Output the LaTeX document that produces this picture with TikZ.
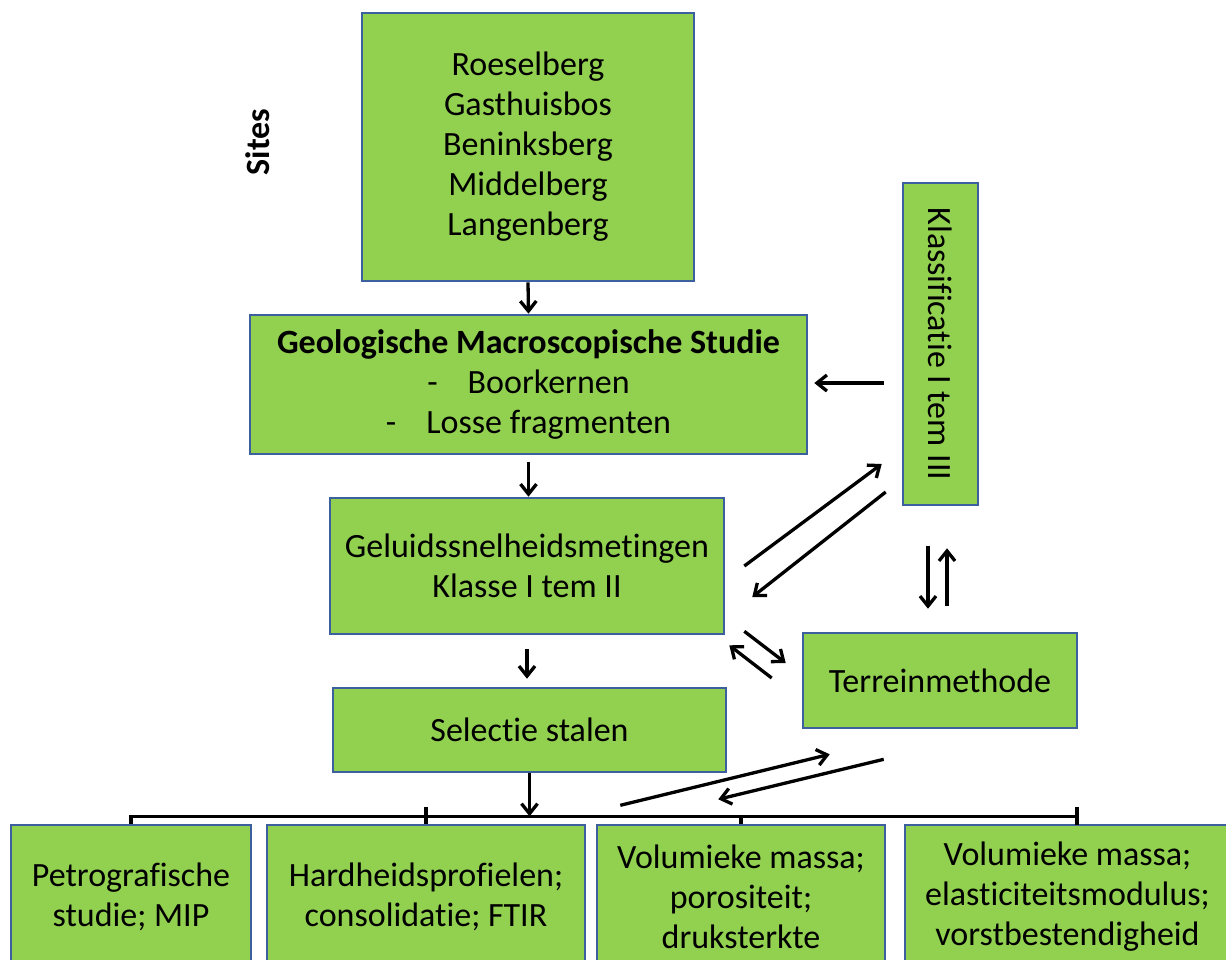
\documentclass[tikz,border=0pt]{standalone}
\usepackage{fontspec}
\usepackage{graphicx}
\setmainfont{Carlito}[Ligatures=NoCommon]
\usetikzlibrary{arrows.meta,calc}
\definecolor{boxfill}{RGB}{146,208,80}
\definecolor{boxline}{RGB}{60,96,158}
\begin{document}
\begin{tikzpicture}[x=1pt,y=-1pt,
  box/.style={draw=boxline, line width=2.6pt, fill=boxfill, inner sep=0pt,
    align=center, font=\fontsize{34}{40}\selectfont},
  arr/.style={line width=3.3pt, -{Straight Barb[length=10pt,width=16pt,line width=3.3pt]}},
  bus/.style={line width=3.3pt}]
\useasboundingbox (0,0) rectangle (1226,959);
\clip (0,0) rectangle (1226,959);

\node[font=\fontsize{34}{40}\selectfont\bfseries, rotate=90] (siteslbl) at (258,142) {Sites};

\node[box, minimum width=332pt, minimum height=268pt] (sites) at (528,147)
  {Roeselberg\\Gasthuisbos\\Beninksberg\\Middelberg\\Langenberg};
\node[box, minimum width=557pt, minimum height=139pt] (geol) at (528.5,384.5)
  {\textbf{Geologische Macroscopische Studie}\\-\hspace{30pt}Boorkernen\\-\hspace{30pt}Losse fragmenten};
\node[box, minimum width=394pt, minimum height=136pt] (geluid) at (527,566)
  {Geluidssnelheidsmetingen\\Klasse I tem II};
\node[box, minimum width=393pt, minimum height=84pt] (sel) at (529.5,730)
  {Selectie stalen};
\node[box, minimum width=274pt, minimum height=95pt] (terrein) at (940,680.5)
  {Terreinmethode};
\node[box, minimum width=75pt, minimum height=322pt] (klass) at (940.5,344)
  {\rotatebox{-90}{Klassificatie I tem III}};

\node[box, minimum width=240pt, minimum height=144pt] (b1) at (131,897)
  {Petrografische\\studie; MIP};
\node[box, minimum width=318pt, minimum height=144pt] (b2) at (426,897)
  {Hardheidsprofielen;\\consolidatie; FTIR};
\node[box, minimum width=288pt, minimum height=144pt] (b3) at (741,897)
  {Volumieke massa;\\porositeit;\\druksterkte};
\node[box, minimum width=325pt, minimum height=144pt] (b4) at (1067.5,897)
  {Volumieke massa;\\elasticiteitsmodulus;\\vorstbestendigheid};

% vertical flow
\draw[arr] (sites.south) -- (geol.north);
\draw[arr, shorten <=7pt] (geol.south) -- (geol.south |- geluid.north);
\draw[arr, shorten <=14pt, shorten >=8pt] (geluid.south) -- (geluid.south |- sel.north);

% classification -> geology
\draw[arr] ($(klass.west)+(-18,39)$) -- ($(geol.east)+(6,-1.5)$);

% geluid <-> klass
\draw[arr] ($(geluid.east)+(19,0)$) -- ($(klass.west)+(-20,120)$);
\draw[arr] ($(klass.west)+(-16,148)$) -- ($(geluid.east)+(27,31)$);

% klass <-> terrein
\draw[arr] ($(klass.south)+(-12.5,40)$) -- ($(terrein.north)+(-12,-23)$);
\draw[arr] ($(terrein.north)+(7,-26)$) -- ($(klass.south)+(6.5,42)$);

% geluid <-> terrein
\draw[arr] ($(geluid.south east)+(19,-4)$) -- ($(terrein.west)+(-16,-17.5)$);
\draw[arr] ($(terrein.west)+(-30,-2.5)$) -- ($(geluid.south east)+(4,10)$);

% bus
\coordinate (busc) at ($(sel.south)+(0,43)$);
\coordinate (busend) at ($(busc -| b4.north)+(9.5,0)$);
\draw[arr] (sel.south) -- (busc);
\draw[bus] (b1.north) -- (b1.north |- busc) -- (busend);
\draw[bus] ($(b2.north)+(0,-17)$) -- (b2.north);
\draw[bus] (b3.north) -- (b3.north |- busc);
\draw[bus] ($(busend)+(0,-9)$) -- ($(busend)+(0,9)$);

% bus <-> terrein
\draw[arr] ($(sel.south east)+(-107,32)$) -- ($(terrein.south west)+(28,25)$);
\draw[arr] ($(terrein.south west)+(82,30)$) -- ($(sel.south east)+(-9,26)$);
\end{tikzpicture}
\end{document}
